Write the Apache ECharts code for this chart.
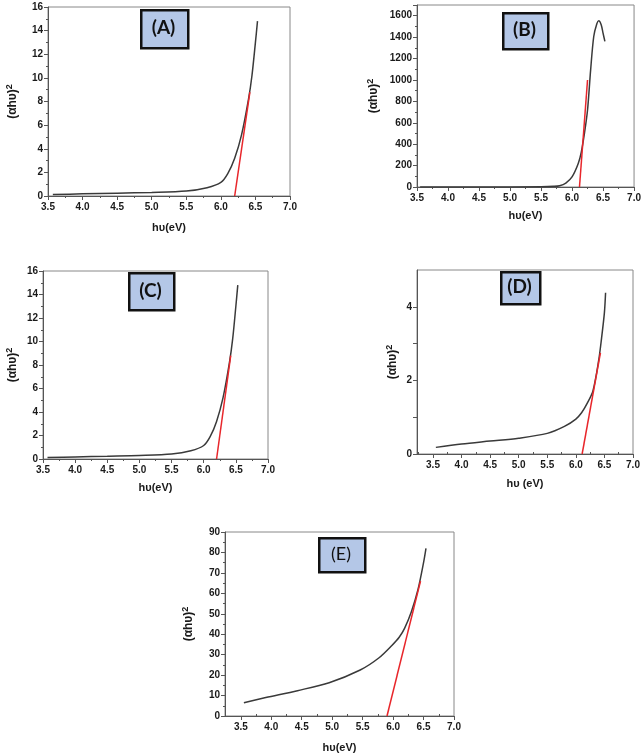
<!DOCTYPE html>
<html><head><meta charset="utf-8">
<script src="https://cdn.jsdelivr.net/npm/echarts@6/dist/echarts.min.js"></script>
<style>html,body{margin:0;padding:0;background:#fff}#c{width:644px;height:754px}</style>
</head><body><div id="c"></div>
<script>
// ---- data ----
const xA = [3.57,4.0,4.5,5.0,5.5,5.8,6.0,6.1,6.2,6.3,6.4,6.45,6.5,6.53];
const yA = [0.12,0.18,0.24,0.30,0.42,0.70,1.15,1.9,3.2,5.2,8.2,10.2,13.0,14.8];
const fitXA = [6.2,6.42];
const fitYA = [0,8.8];

const xB = [3.55,4.5,5.5,5.7,5.8,5.9,6.0,6.1,6.15,6.2,6.25,6.3,6.35,6.4,6.43,6.47,6.5,6.53];
const yB = [0,0,3,6,12,37,94,219,328,500,719,1094,1406,1525,1553,1516,1437,1360];
const fitXB = [6.12,6.25];
const fitYB = [0,1000];

const xC = [3.57,4.0,4.5,5.0,5.5,5.8,6.0,6.1,6.2,6.3,6.4,6.45,6.5,6.53];
const yC = [0.12,0.18,0.24,0.30,0.42,0.70,1.15,1.9,3.2,5.2,8.2,10.2,13.0,14.8];
const fitXC = [6.2,6.42];
const fitYC = [0,8.8];

const xD = [3.55,4.0,4.5,5.0,5.5,5.8,6.0,6.1,6.2,6.3,6.4,6.45,6.5,6.52];
const yD = [0.18,0.27,0.35,0.43,0.56,0.75,0.95,1.12,1.38,1.72,2.55,3.15,3.85,4.38];
const fitXD = [6.11,6.43];
const fitYD = [0,2.75];

const xE = [3.55,3.91,4.43,4.95,5.46,5.77,5.98,6.1,6.19,6.30,6.41,6.50,6.54];
const yE = [6.5,9,12.4,16.3,22.5,28.5,34.5,38.5,43,51,62,75,82];
const fitXE = [5.90,6.45];
const fitYE = [0,66];

const xTicks = [3.5,4.0,4.5,5.0,5.5,6.0,6.5,7.0];
const xMinorTicks = [3.25,3.75,4.25,4.75,5.25,5.75,6.25,6.75];
const labels = ['(A)','(B)','(C)','(D)','(E)'];
const xTitles = ['hυ(eV)','hυ(eV)','hυ(eV)','hυ (eV)','hυ(eV)'];

// ---- layout ----
const panels = [
  {x:xA,y:yA,fx:fitXA,fy:fitYA,grid:{left:48,top:7,width:242,height:189},xmin:3.5,ymax:16,yint:2,yminor:2,yGap:27,xGap:26,box:[140,9,47,38],bold:true,showMax:true},
  {x:xB,y:yB,fx:fitXB,fy:fitYB,grid:{left:417,top:5,width:218,height:182},xmin:3.5,ymax:1700,yint:200,yminor:2,yGap:35,xGap:23,box:[502,12,45,36],bold:true,showMax:false},
  {x:xC,y:yC,fx:fitXC,fy:fitYC,grid:{left:43,top:271,width:225,height:188},xmin:3.5,ymax:16,yint:2,yminor:2,yGap:22,xGap:23,box:[128,272,45,37],bold:true,showMax:true},
  {x:xD,y:yD,fx:fitXD,fy:fitYD,grid:{left:417,top:270,width:216,height:184},xmin:3.22,ymax:5,yint:1,yminor:0,yGap:16,xGap:24,box:[500,271,39,32],bold:true,evenOnly:true,showMax:false},
  {x:xE,y:yE,fx:fitXE,fy:fitYE,grid:{left:225,top:532,width:229,height:184},xmin:3.24,ymax:90,yint:10,yminor:2,yGap:28,xGap:26,box:[318,537,46,34],bold:false,showMax:true}
];

const axisCol = '#555';
const lblStyle = {fontFamily:'Liberation Sans',fontWeight:'bold',fontSize:10,color:'#1a1a1a'};
const grids=[], xAxes=[], yAxes=[], series=[], graphics=[];
panels.forEach((p,i)=>{
  grids.push(Object.assign({show:true,borderColor:'#888',borderWidth:1,backgroundColor:'transparent'},p.grid));
  const aligned = p.xmin === 3.5;
  const xMain = {
    type:'value',gridIndex:i,min:p.xmin,max:7.0,
    name:xTitles[i],nameLocation:'middle',nameGap:p.xGap,
    nameTextStyle:{fontFamily:'Liberation Sans',fontWeight:'bold',fontSize:11,color:'#1a1a1a'},
    axisLine:{show:true,onZero:false,lineStyle:{color:axisCol,width:1}},
    splitLine:{show:false},
    axisLabel:Object.assign({margin:6,formatter:v=>v.toFixed(1)},lblStyle),
    axisTick:{show:true,inside:false,length:4,lineStyle:{color:axisCol}}
  };
  if (aligned) {
    xMain.interval = 0.5;
    xMain.minorTick = {show:true,splitNumber:2,length:2,lineStyle:{color:axisCol}};
  } else {
    xMain.axisLabel.customValues = xTicks;
    xMain.axisTick.customValues = xTicks;
  }
  const xIdx = xAxes.length;
  xAxes.push(xMain);
  if (!aligned) {
    xAxes.push({type:'value',gridIndex:i,min:p.xmin,max:7.0,
      axisLine:{show:false},splitLine:{show:false},axisLabel:{show:false},
      axisTick:{show:true,length:2,customValues:xMinorTicks,lineStyle:{color:axisCol}}});
  }
  const yAx = {
    type:'value',gridIndex:i,min:0,max:p.ymax,interval:p.yint,
    name:'(αhυ){s|2}',nameLocation:'middle',nameGap:p.yGap,
    nameTextStyle:{fontFamily:'Liberation Sans',fontWeight:'bold',fontSize:12,color:'#1a1a1a',
      rich:{s:{fontFamily:'Liberation Sans',fontWeight:'bold',fontSize:9,color:'#1a1a1a',verticalAlign:'top',padding:[0,0,7,0]}}},
    axisLine:{show:true,onZero:false,lineStyle:{color:axisCol,width:1}},
    splitLine:{show:false},
    axisLabel:Object.assign({margin:5,showMaxLabel:p.showMax,formatter:v=>String(v)},lblStyle),
    axisTick:{show:true,inside:false,length:4,lineStyle:{color:axisCol}}
  };
  if (p.yminor) yAx.minorTick = {show:true,splitNumber:p.yminor,length:2,lineStyle:{color:axisCol}};
  if (p.evenOnly) yAx.axisLabel.formatter = v => (v % 2 === 0 ? String(v) : '');
  const yIdx = yAxes.length;
  yAxes.push(yAx);
  series.push({type:'line',xAxisIndex:xIdx,yAxisIndex:yIdx,smooth:0.3,symbol:'none',
    lineStyle:{color:'#3a3a3a',width:1.5},data:p.x.map((v,k)=>[v,p.y[k]]),z:3});
  series.push({type:'line',xAxisIndex:xIdx,yAxisIndex:yIdx,symbol:'none',
    lineStyle:{color:'#e8262b',width:1.5},data:p.fx.map((v,k)=>[v,p.fy[k]]),z:4});
  const [bx,by,bw,bh] = p.box;
  graphics.push({type:'rect',left:bx+2,top:by+2,shape:{width:bw,height:bh},style:{fill:'#9a9a9a'},z:10});
  graphics.push({type:'rect',left:bx,top:by,shape:{width:bw,height:bh},
    style:{fill:'#b4c7e7',stroke:'#111',lineWidth:2.5},z:11});
  graphics.push({type:'text',x:bx+bw/2,y:by+bh/2,style:{text:labels[i],
    fontFamily:'Lato',fontWeight:p.bold?'bold':'normal',fontSize:p.bold?19:18,fill:'#111',
    align:'center',verticalAlign:'middle'},z:12});
});

const chart = echarts.init(document.getElementById('c'),null,{renderer:'canvas'});
chart.setOption({animation:false,backgroundColor:'#fff',grid:grids,xAxis:xAxes,yAxis:yAxes,series:series,graphic:graphics});
</script></body></html>
